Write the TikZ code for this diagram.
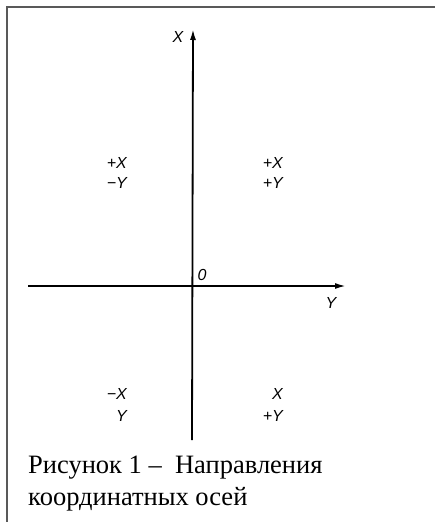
\documentclass[tikz,border=0pt]{standalone}
\usepackage{fontspec}
\setmainfont{Liberation Serif}
\newfontfamily\labfont{Liberation Sans}
\usetikzlibrary{arrows.meta}
\begin{document}
\begin{tikzpicture}[x=1pt,y=-1pt,
  axisline/.style={line width=1.8pt,draw=black},
  lab/.style={font=\labfont\itshape\fontsize{16}{16}\selectfont,inner sep=0pt},
  captext/.style={font=\fontsize{26.5}{32}\selectfont,inner sep=0pt,anchor=base west},
  frameline/.style={line width=1.6pt,draw=black!65}]
\useasboundingbox (0,0) rectangle (435,522);
% frame
\coordinate (fb) at (7,522);
\coordinate (fc) at (7,7);
\coordinate (fr) at (435,7);
\draw[frameline] (fb) -- (fc) -- (fr);
% axes
\coordinate (xb) at (192,440);
\coordinate (xt) at (193,29);
\coordinate (yl) at (28,286);
\coordinate (yr) at (346,286);
\draw[axisline,-{Latex[length=11pt,width=6pt]}] (xb) -- (xt);
\draw[axisline,-{Latex[length=11pt,width=6pt]}] (yl) -- (yr);
% axis labels
\node[lab] (lx) at (178,37) {X};
\node[lab] (ly) at (331,303) {Y};
\node[lab] (lo) at (202,275) {0};
% quadrant labels
\node[lab,anchor=east] (q1a) at (127,162.5) {+X};
\node[lab,anchor=east] (q1b) at (127,182.5) {−Y};
\node[lab,anchor=east] (q2a) at (283,162.5) {+X};
\node[lab,anchor=east] (q2b) at (283,182.5) {+Y};
\node[lab,anchor=east] (q3a) at (127,394) {−X};
\node[lab,anchor=east] (q3b) at (127,416) {Y};
\node[lab,anchor=east] (q4a) at (283,394) {X};
\node[lab,anchor=east] (q4b) at (283,416) {+Y};
% caption
\node[captext] (c1) at (28,473) {Рисунок 1 –\ \ Направления};
\node[captext] (c2) at (28,505) {координатных осей};
\end{tikzpicture}
\end{document}
